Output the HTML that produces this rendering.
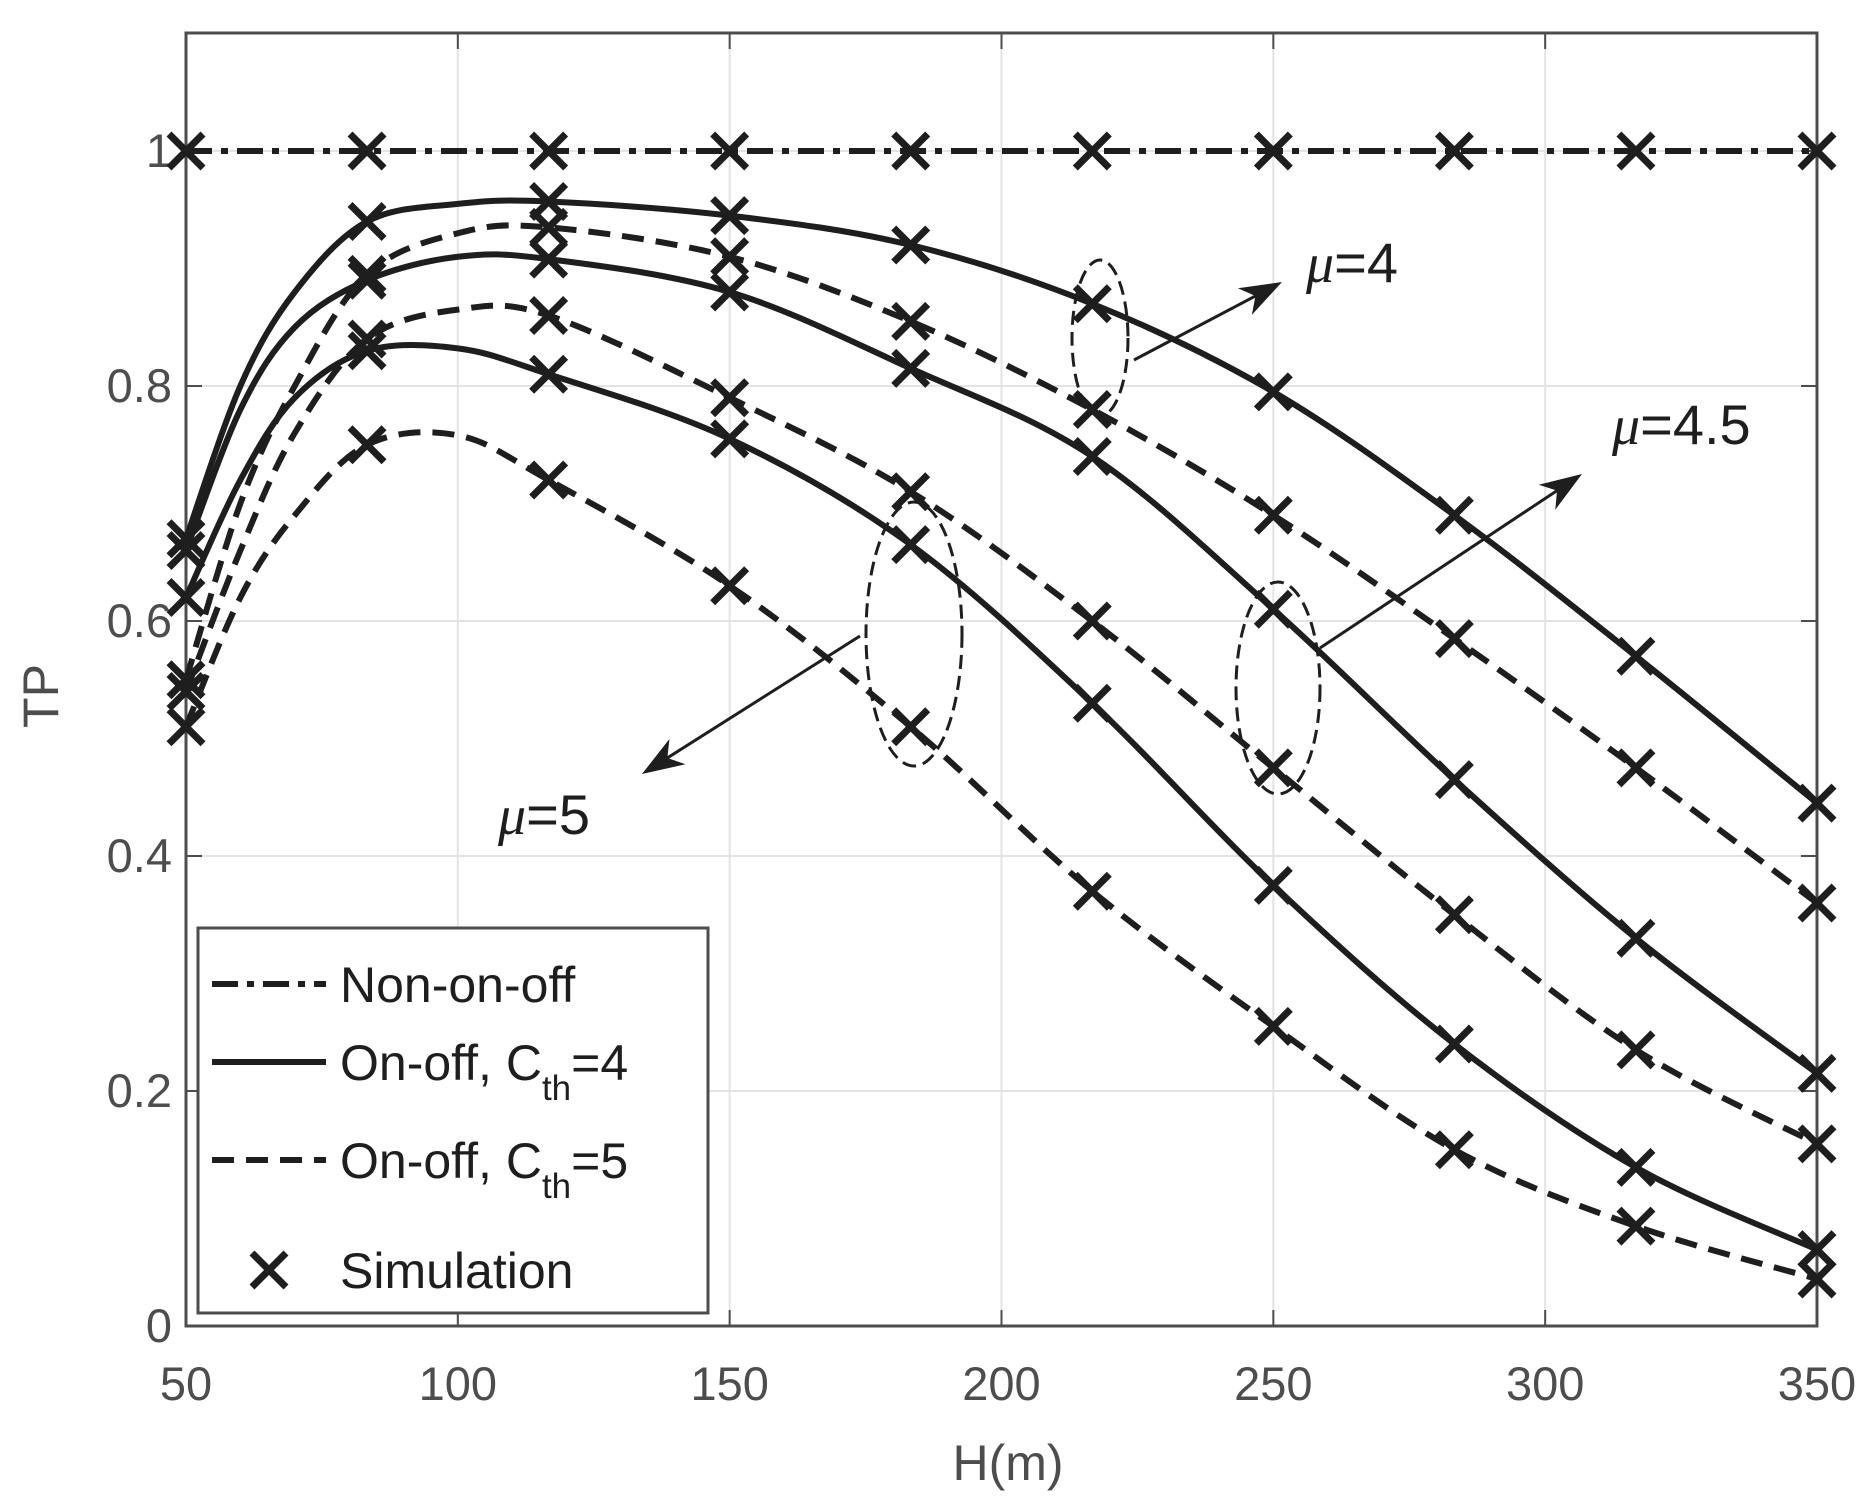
<!DOCTYPE html>
<html><head><meta charset="utf-8"><style>
body{margin:0;background:#fff}
svg{display:block;font-family:"Liberation Sans",sans-serif}
</style></head><body>
<svg id="s" width="1872" height="1507" viewBox="0 0 1872 1507" xmlns="http://www.w3.org/2000/svg"></svg>
<script>
const X0=186,X1=1817,Y0=1326,Y1=151;
const px=h=>X0+(h-50)/300*(X1-X0);
const py=v=>Y0-v*(Y0-Y1);
let o='';
for(let h=50;h<=350;h+=50){o+=`<line x1="${px(h)}" y1="33" x2="${px(h)}" y2="${Y0}" stroke="#e3e3e3" stroke-width="2"/>`;}
for(let v=0;v<=1.01;v+=0.2){o+=`<line x1="${X0}" y1="${py(v)}" x2="${X1}" y2="${py(v)}" stroke="#e3e3e3" stroke-width="2"/>`;}
for(let h=50;h<=350;h+=50){o+=`<line x1="${px(h)}" y1="${Y0}" x2="${px(h)}" y2="${Y0-16}" stroke="#4d4d4d" stroke-width="2"/><line x1="${px(h)}" y1="33" x2="${px(h)}" y2="49" stroke="#4d4d4d" stroke-width="2"/>`;
o+=`<text x="${px(h)}" y="1400" font-size="47" fill="#4d4d4d" text-anchor="middle">${h}</text>`;}
const yl=['0','0.2','0.4','0.6','0.8','1'];
yl.forEach((t,i)=>{const y=py(i*0.2);o+=`<line x1="${X0}" y1="${y}" x2="${X0+16}" y2="${y}" stroke="#4d4d4d" stroke-width="2"/><line x1="${X1}" y1="${y}" x2="${X1-16}" y2="${y}" stroke="#4d4d4d" stroke-width="2"/><text x="${X0-14}" y="${y+16}" font-size="47" fill="#4d4d4d" text-anchor="end">${t}</text>`;});
o+=`<rect x="${X0}" y="33" width="${X1-X0}" height="${Y0-33}" fill="none" stroke="#4d4d4d" stroke-width="3"/>`;
const H=[50,60,70,83.3,100,116.7,150,183.3,216.7,250,283.3,316.7,350];
const S=[
 [[.67,.80,.88,.94,.955,.957,.945,.92,.87,.795,.69,.57,.445],'none'],
 [[.55,.70,.80,.895,.93,.935,.91,.855,.78,.69,.585,.475,.36],'22 12'],
 [[.66,.78,.85,.89,.91,.908,.88,.815,.74,.61,.465,.33,.215],'none'],
 [[.54,.66,.76,.84,.865,.86,.79,.71,.60,.475,.35,.235,.155],'22 12'],
 [[.62,.72,.79,.83,.832,.81,.755,.665,.53,.375,.24,.135,.065],'none'],
 [[.51,.62,.69,.75,.758,.72,.63,.51,.37,.255,.15,.085,.04],'22 12']];
function path(vals){const p=H.map((h,i)=>[px(h),py(vals[i])]);let d=`M${p[0]}`;
for(let i=0;i<p.length-1;i++){const a=p[i-1]||p[i],b=p[i],c=p[i+1],e=p[i+2]||c;
d+=` C${b[0]+(c[0]-a[0])/6},${b[1]+(c[1]-a[1])/6} ${c[0]-(e[0]-b[0])/6},${c[1]-(e[1]-b[1])/6} ${c[0]},${c[1]}`;}return d;}
function X(x,y){const r=17;return `<path d="M${x-r},${y-r}L${x+r},${y+r}M${x-r},${y+r}L${x+r},${y-r}" stroke="#1e1e1e" stroke-width="7" fill="none"/>`;}
o+=`<line x1="${X0}" y1="${Y1}" x2="${X1}" y2="${Y1}" stroke="#1e1e1e" stroke-width="6" stroke-dasharray="26 9 7 9"/>`;
S.forEach(([v,da])=>{o+=`<path d="${path(v)}" fill="none" stroke="#1e1e1e" stroke-width="6" ${da!=='none'?`stroke-dasharray="${da}"`:''}/>`;});
const MH=[50,83.3,116.7,150,183.3,216.7,250,283.3,316.7,350];
MH.forEach(h=>{o+=X(px(h),py(1));});
S.forEach(([v])=>{MH.forEach(h=>{const i=H.indexOf(h);o+=X(px(h),py(v[i]));});});
const ann=[[1100,338,28,78,1134,360,1282,282,'μ','=4',1306,282],[1278,688,42,106,1320,648,1582,474,'μ','=4.5',1612,444],[914,634,48,132,860,636,642,774,'μ','=5',498,834]];
ann.forEach(a=>{o+=`<ellipse cx="${a[0]}" cy="${a[1]}" rx="${a[2]}" ry="${a[3]}" fill="none" stroke="#1e1e1e" stroke-width="3" stroke-dasharray="14 7"/>`;
const dx=a[6]-a[4],dy=a[7]-a[5],L=Math.hypot(dx,dy),ux=dx/L,uy=dy/L;
o+=`<line x1="${a[4]}" y1="${a[5]}" x2="${a[6]-ux*20}" y2="${a[7]-uy*20}" stroke="#1e1e1e" stroke-width="3"/>`;
const bx=a[6]-ux*42,by=a[7]-uy*42;o+=`<path d="M${a[6]},${a[7]}L${bx-uy*15},${by+ux*15}L${a[6]-ux*30},${a[7]-uy*30}L${bx+uy*15},${by-ux*15}Z" fill="#1e1e1e"/>`;
o+=`<text x="${a[10]}" y="${a[11]}" font-size="56" fill="#1e1e1e"><tspan font-style="italic" font-family="Liberation Serif">${a[8]}</tspan>${a[9]}</text>`;});
o+=`<rect x="198" y="928" width="510" height="385" fill="#fff" stroke="#4d4d4d" stroke-width="3"/>`;
const ly=[984,1062,1160,1270];
o+=`<line x1="212" y1="${ly[0]}" x2="326" y2="${ly[0]}" stroke="#1e1e1e" stroke-width="6" stroke-dasharray="26 9 7 9"/>`;
o+=`<line x1="212" y1="${ly[1]}" x2="326" y2="${ly[1]}" stroke="#1e1e1e" stroke-width="6"/>`;
o+=`<line x1="212" y1="${ly[2]}" x2="326" y2="${ly[2]}" stroke="#1e1e1e" stroke-width="6" stroke-dasharray="22 12"/>`;
o+=X(269,ly[3]);
const tf='font-size="50" fill="#1e1e1e"';
o+=`<text x="340" y="${ly[0]+18}" ${tf}>Non-on-off</text>`;
o+=`<text x="340" y="${ly[1]+18}" ${tf}>On-off, C<tspan font-size="35" dy="20">th</tspan><tspan dy="-20">=4</tspan></text>`;
o+=`<text x="340" y="${ly[2]+18}" ${tf}>On-off, C<tspan font-size="35" dy="20">th</tspan><tspan dy="-20">=5</tspan></text>`;
o+=`<text x="340" y="${ly[3]+18}" ${tf}>Simulation</text>`;
o+=`<text x="1008" y="1480" font-size="50" fill="#4d4d4d" text-anchor="middle">H(m)</text>`;
o+=`<text transform="translate(58,696) rotate(-90)" font-size="50" fill="#4d4d4d" text-anchor="middle">TP</text>`;
document.getElementById('s').innerHTML=o;
</script>
</body></html>
